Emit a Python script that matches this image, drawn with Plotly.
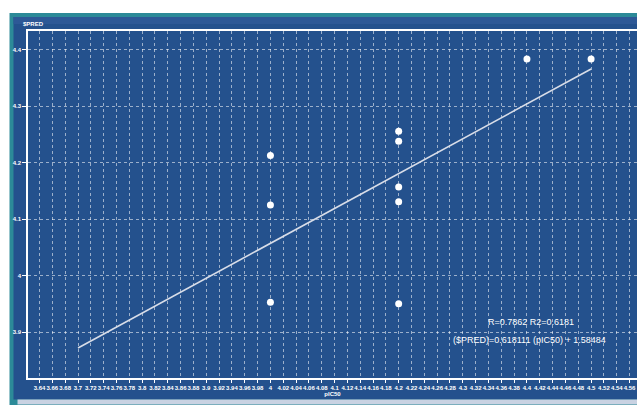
import plotly.graph_objects as go

# ---- data ----
pic50 = [4.0, 4.0, 4.0, 4.2, 4.2, 4.2, 4.2, 4.2, 4.4, 4.5]
pred = [4.213, 4.125, 3.953, 4.256, 4.238, 4.157, 4.131, 3.950, 4.384, 4.384]
slope = 0.618111
intercept = 1.58484
line_x = [3.7, 4.5]
x_ticks = [round(3.64 + 0.02 * i, 2) for i in range(47)]
y_ticks = [3.9, 4.0, 4.1, 4.2, 4.3, 4.4]
y_tick_labels = ["3.9", "4", "4.1", "4.2", "4.3", "4.4"]
stat_line1 = "R=0.7862 R2=0.6181"
stat_line2 = "($PRED)=0.618111 (pIC50) + 1.58484"

line_y = [slope * v + intercept for v in line_x]


def fmt(v):
    s = ("%.2f" % v).rstrip("0").rstrip(".")
    return s


W, H = 637, 405
L, R, T, B = 27.5, 0, 31, 26.5
pw, ph = W - L - R, H - T - B


def px(x):
    return (x - L) / pw


def py(y):
    return (H - B - y) / ph


fig = go.Figure()
fig.add_trace(go.Scatter(x=line_x, y=line_y, mode="lines",
                         line=dict(color="#d8dde8", width=1.6), hoverinfo="skip"))
fig.add_trace(go.Scatter(x=pic50, y=pred, mode="markers",
                         marker=dict(color="white", size=7, symbol="circle",
                                     line=dict(width=0))))

shapes = [
    dict(type="rect", xref="paper", yref="paper", x0=px(9), x1=px(640), y0=py(13), y1=py(408),
         fillcolor="#2c8a98", line=dict(width=0), layer="below"),
    dict(type="rect", xref="paper", yref="paper", x0=px(13), x1=px(640), y0=py(17), y1=py(400),
         fillcolor="#24518d", line=dict(width=0), layer="below"),
    dict(type="rect", xref="paper", yref="paper", x0=px(13), x1=px(640), y0=py(17), y1=py(24),
         fillcolor="#2d5896", line=dict(width=0), layer="below"),
    dict(type="rect", xref="paper", yref="paper", x0=px(17), x1=px(640), y0=py(400), y1=py(405),
         fillcolor="#c9d2e2", line=dict(width=0), layer="below"),
]

font_tick = dict(family="Liberation Sans Narrow, Liberation Sans, Arial", size=6, color="white",
                 weight="bold")

fig.update_layout(
    width=W, height=H,
    margin=dict(l=L, r=R, t=T, b=B, pad=0),
    paper_bgcolor="white",
    plot_bgcolor="rgba(0,0,0,0)",
    showlegend=False,
    shapes=shapes,
    xaxis=dict(range=[3.622, 4.5716], tickmode="array", tickvals=x_ticks,
               ticktext=[fmt(v) for v in x_ticks], tickangle=0,
               tickfont=font_tick, showgrid=True, gridcolor="rgba(255,255,255,0.55)",
               griddash="dot", gridwidth=1, showline=True, linecolor="white", linewidth=2,
               mirror=True, ticks="outside", ticklen=3, tickcolor="white", zeroline=False,
               title=dict(text="<b>pIC50</b>", font=dict(family="Liberation Sans", size=6, color="white"),
                          standoff=2)),
    yaxis=dict(range=[3.8186, 4.4336], tickmode="array", tickvals=y_ticks,
               ticktext=y_tick_labels, tickfont=font_tick, showgrid=True,
               gridcolor="rgba(255,255,255,0.55)", griddash="dot", gridwidth=1,
               showline=True, linecolor="white", linewidth=1.5, ticks="outside",
               ticklen=4, tickcolor="white", zeroline=False),
    annotations=[
        dict(text="<b>$PRED</b>", xref="paper", yref="paper", x=px(20), y=py(24),
             xanchor="left", yanchor="middle", showarrow=False,
             font=dict(family="Liberation Sans", size=6, color="white")),
        dict(text=stat_line1, xref="paper", yref="paper", x=px(531), y=py(322),
             xanchor="center", yanchor="middle", showarrow=False,
             font=dict(family="Liberation Sans Narrow, Liberation Sans", size=9, color="white")),
        dict(text=stat_line2, xref="paper", yref="paper", x=px(529), y=py(340),
             xanchor="center", yanchor="middle", showarrow=False,
             font=dict(family="Liberation Sans Narrow, Liberation Sans", size=9, color="white")),
    ],
)

fig.write_html("out.html", config={"displayModeBar": False},
               post_script="document.body.style.margin='0';document.body.style.overflow='hidden';")
